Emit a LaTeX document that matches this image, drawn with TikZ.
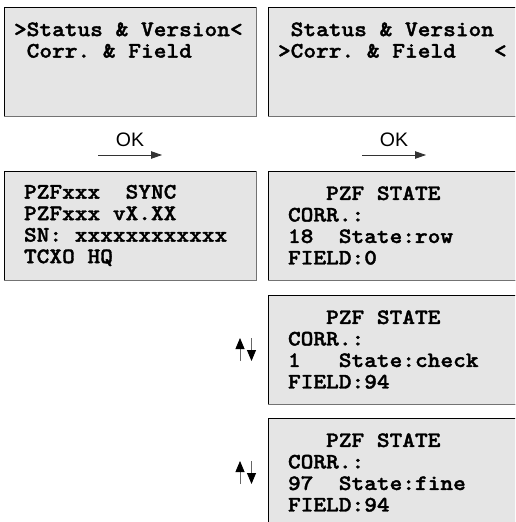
\documentclass[tikz,border=0pt]{standalone}
\usepackage{fontspec}
\newfontfamily\keyfont{Liberation Sans}
\newfontfamily\lcdface{lmmonolt10-bold.otf}[FakeStretch=1.1, FakeBold=1.6]
\DeclareRobustCommand\lcdfont{\lcdface\fontsize{22}{21.5}\selectfont}
\newcommand\gap{\hphantom{0}}
\usetikzlibrary{arrows.meta, positioning, calc}

\begin{document}
\begin{tikzpicture}[
  x=1pt, y=-1pt,
  % Node styles
  lcdbase/.style={
    rectangle, fill=black!10, draw=black, line width=0.9pt, outer sep=0pt,
    minimum width=252pt, minimum height=109pt, align=left,
    font=\lcdfont
  },
  menunode/.style={lcdbase, inner xsep=10pt, text width=232pt},
  infonode/.style={lcdbase, inner xsep=20pt, text width=212pt},
  keylabel/.style={font=\keyfont\fontsize{19.5}{19.5}\selectfont, above=5pt},
  % Edge and arrow styles
  shade/.style={draw=black!55, line width=0.9pt},
  arr/.style={-{Triangle[length=11pt, width=7.5pt]}, line width=0.8pt, draw=black!80},
  scroll/.style={-{Triangle[length=11pt, width=9pt, color=black]}, line width=0.8pt, draw=black!60}
]

\useasboundingbox (0,0) rectangle (515,522);
\clip (0,0) rectangle (515,522);

%% ── Menu screens ─────────────────────────────────────────────
\node[menunode] at (130,61.5)          (menuA)  {>Status\gap\&\gap Version<\\\gap Corr.\gap\&\gap Field\\\gap\\\gap};
\node[menunode, right=12pt of menuA]   (menuB)  {\gap Status\gap\&\gap Version\\>Corr.\gap\&\gap Field\gap\gap\gap<\\\gap\\\gap};

%% ── Result screens ───────────────────────────────────────────
\node[infonode, below=55pt of menuA]   (infoA)  {PZFxxx\gap\gap SYNC\\PZFxxx\gap vX.XX\\SN:\gap xxxxxxxxxxxx\\TCXO\gap HQ};
\node[infonode, below=55pt of menuB]   (stateA) {\gap\gap\gap PZF\gap STATE\\CORR.:\\18\gap\gap State:row\\FIELD:0};
\node[infonode, below=15pt of stateA]  (stateB) {\gap\gap\gap PZF\gap STATE\\CORR.:\\1\gap\gap\gap State:check\\FIELD:94};
\node[infonode, below=14pt of stateB]  (stateC) {\gap\gap\gap PZF\gap STATE\\CORR.:\\97\gap\gap State:fine\\FIELD:94};

%% ── Grey lower/right edges ───────────────────────────────────
\foreach \n in {menuA, menuB, infoA, stateA, stateB, stateC}
  \draw[shade] (\n.north east) |- (\n.south west);

%% ── OK arrows ────────────────────────────────────────────────
\coordinate (okAs) at ($(menuA.south)+(-32,39)$);
\coordinate (okAe) at ($(menuA.south)+(32,39)$);
\coordinate (okBs) at ($(menuB.south)+(-32,39)$);
\coordinate (okBe) at ($(menuB.south)+(32,39)$);
\draw[arr] (okAs) -- node[keylabel] {OK} (okAe);
\draw[arr] (okBs) -- node[keylabel] {OK} (okBe);

%% ── Scroll arrows ────────────────────────────────────────────
\foreach \s in {stateB, stateC} {
  \draw[scroll] ($(\s.west)+(-28,11.5)$)   -- ($(\s.west)+(-28,-11.5)$);
  \draw[scroll] ($(\s.west)+(-16.5,-11.5)$) -- ($(\s.west)+(-16.5,11.5)$);
}

\end{tikzpicture}
\end{document}
